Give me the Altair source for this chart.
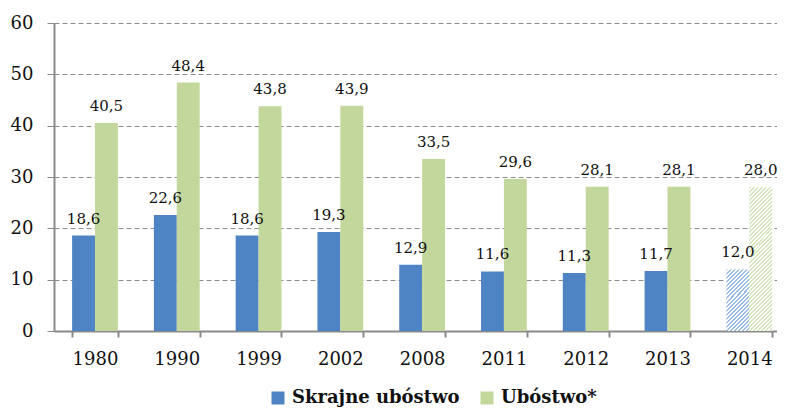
import altair as alt
import pandas as pd

years = ["1980", "1990", "1999", "2002", "2008", "2011", "2012", "2013", "2014"]
extreme = [18.6, 22.6, 18.6, 19.3, 12.9, 11.6, 11.3, 11.7, 12.0]
poverty = [40.5, 48.4, 43.8, 43.9, 33.5, 29.6, 28.1, 28.1, 28.0]
series_names = ["Skrajne ubóstwo", "Ubóstwo*"]
projected_year = "2014"

rows = []
for y, a, b in zip(years, extreme, poverty):
    rows.append({"year": y, "series": series_names[0], "value": a})
    rows.append({"year": y, "series": series_names[1], "value": b})
df = pd.DataFrame(rows)

BLUE = "#4F84C4"
GREEN = "#C3D69B"
FONT = "DejaVu Serif"
H = 308
YMAX = 60
BAR_W = 23


def hatch(color, value, period=4.0):
    w = BAR_W
    h = value * H / YMAX
    r = w / h
    dy = (r + 1) / (r * r + 1)
    dx = r * dy
    n = max(1, round((w + h) / period))
    stops = []
    for k in range(n):
        a = k / n
        b = (k + 0.5) / n
        c = (k + 1) / n
        stops += [
            {"offset": a, "color": color},
            {"offset": b, "color": color},
            {"offset": b, "color": "#ffffff"},
            {"offset": c, "color": "#ffffff"},
        ]
    return {"gradient": "linear", "x1": 0, "y1": 0, "x2": dx, "y2": dy, "stops": stops}


ext_last = extreme[years.index(projected_year)]
pov_last = poverty[years.index(projected_year)]

x_scale = alt.Scale(type="band", paddingInner=0.44, paddingOuter=0.14, align=0.79)
x_enc = alt.X(
    "year:N",
    sort=years,
    scale=x_scale,
    axis=alt.Axis(
        title=None,
        labelAngle=0,
        labelFont=FONT,
        labelFontSize=18,
        labelColor="#111111",
        labelPadding=13,
        tickBand="extent",
        tickSize=6,
        tickWidth=2,
        tickColor="#8a8a8a",
        domainColor="#8a8a8a",
        domainWidth=2,
        grid=False,
    ),
)
xoff = alt.XOffset("series:N", sort=series_names,
                   scale=alt.Scale(type="band", domain=series_names, paddingInner=0, paddingOuter=0))
y_enc = alt.Y(
    "value:Q",
    scale=alt.Scale(domain=[0, YMAX], nice=False),
    axis=alt.Axis(
        title=None,
        values=[0, 10, 20, 30, 40, 50, 60],
        labelFont=FONT,
        labelFontSize=18,
        labelColor="#111111",
        labelPadding=14,
        tickSize=7,
        tickColor="#8a8a8a",
        domainColor="#8a8a8a",
        domainWidth=2,
        grid=True,
        gridColor="#8c8c8c",
        gridDash=[5, 3],
        gridWidth=1,
    ),
)

color_enc = alt.Color(
    "series:N",
    sort=series_names,
    scale=alt.Scale(domain=series_names, range=[BLUE, GREEN]),
    legend=alt.Legend(
        title=None,
        orient="none",
        direction="horizontal",
        legendX=215,
        legendY=366,
        padding=0,
        symbolType="square",
        symbolSize=169,
        symbolStrokeWidth=0,
        labelFont=FONT,
        labelFontSize=18,
        labelFontWeight="bold",
        labelColor="#111111",
        labelOffset=5,
        labelLimit=0,
        columnPadding=18,
    ),
    condition=[
        {"test": f"datum.year == '{projected_year}' && datum.series == '{series_names[0]}'",
         "value": hatch("#9CBDE8", ext_last)},
        {"test": f"datum.year == '{projected_year}' && datum.series == '{series_names[1]}'",
         "value": hatch("#D6E4BB", pov_last)},
    ],
)

bars = alt.Chart(df).mark_bar().encode(x=x_enc, xOffset=xoff, y=y_enc, color=color_enc)

labels = (
    alt.Chart(df)
    .transform_calculate(label="replace(format(datum.value, '.1f'), '.', ',')")
    .mark_text(font=FONT, fontSize=15, color="#111111", baseline="alphabetic", dy=-12)
    .encode(x=x_enc, xOffset=xoff, y=y_enc, text="label:N")
)

chart = (
    alt.layer(bars, labels)
    .properties(
        width=723,
        height=H,
        padding={"left": 46, "top": 15, "right": 0, "bottom": 77},
        autosize=alt.AutoSizeParams(type="none"),
    )
    .configure_view(stroke=None)
)

chart.save("out.html", embed_options={"renderer": "svg", "actions": False})
